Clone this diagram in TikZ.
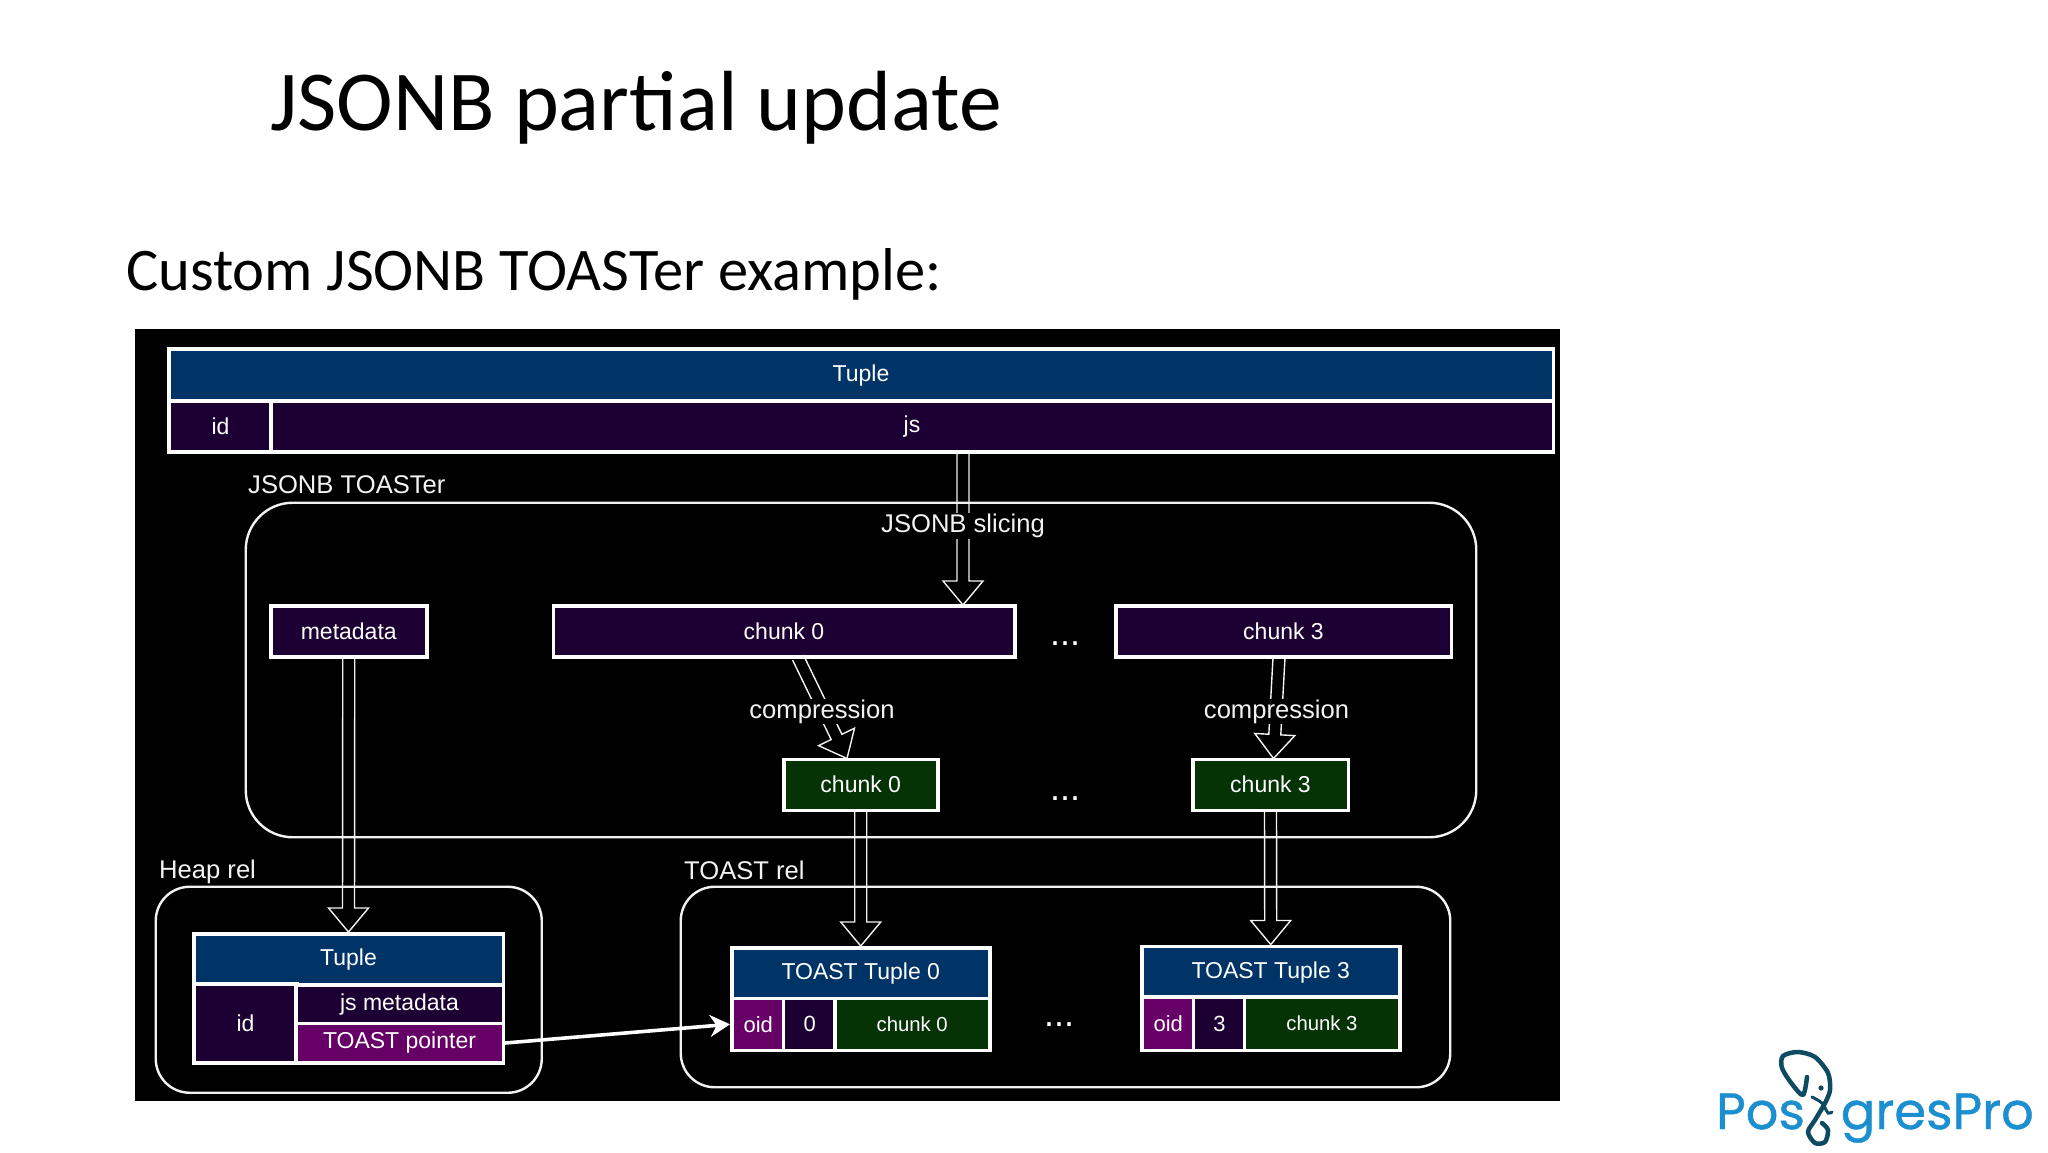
\documentclass[tikz,border=0pt]{standalone}
\usepackage{fontspec}
\setmainfont{Liberation Sans}
\newfontfamily\titlefont{Carlito}
\newfontfamily\logofont[FakeBold=0.8]{Poppins}
\usetikzlibrary{arrows.meta,calc}
\definecolor{cellblue}{HTML}{003366}
\definecolor{cellpurple}{HTML}{1D0033}
\definecolor{cellmagenta}{HTML}{660066}
\definecolor{cellgreen}{HTML}{063306}
\definecolor{logoblue}{HTML}{1B8FCF}
\definecolor{logodark}{HTML}{0F4A63}
\definecolor{pale}{HTML}{F2F2F2}
\tikzset{
  x=1pt,y=-1pt,
  cellbox/.style={draw=white,line width=3.5pt,rectangle,inner sep=0pt,text=white},
  groupbox/.style={draw=pale,line width=2.4pt,rectangle,inner sep=0pt},
  blockline/.style={draw=pale,line width=1.4pt,line join=miter},
  flowlabel/.style={fill=black,text=pale,inner sep=1pt,font=\fontsize{25.6}{30}\selectfont},
  grouplabel/.style={text=pale,inner sep=0pt,anchor=west,font=\fontsize{25.6}{30}\selectfont},
  dotsmark/.style={text=white,inner sep=0pt,anchor=base,font=\fontsize{36}{40}\selectfont},
  pointerline/.style={draw=white,line width=3.6pt,-{Stealth[length=20pt,width=22pt]}},
}
% name, x1, y1, x2, y2, colour, size, text
\newcommand\cellat[8]{\node[cellbox,fill=#6,minimum width={#4-#2-1.5},minimum height={#5-#3-1.5},font=\fontsize{#7}{#7}\selectfont] (#1) at ({(#2+#4)/2},{(#3+#5)/2}) {#8};}
\newcommand\groupat[6]{\node[groupbox,minimum width={#4-#2-1.5},minimum height={#5-#3-1.5},rounded corners=#6] (#1) at ({(#2+#4)/2},{(#3+#5)/2}) {};}
\newcommand\blockarrow[2]{%
  \coordinate (ah) at ($(#2)!24pt!(#1)$);
  \draw[blockline] ($(#1)!6pt!90:(#2)$) -- ($(ah)!6pt!90:(#2)$) -- ($(ah)!20pt!90:(#2)$) -- (#2)
    -- ($(ah)!20pt!-90:(#2)$) -- ($(ah)!6pt!-90:(#2)$) -- ($(#1)!6pt!-90:(#2)$);}
\begin{document}
\begin{tikzpicture}
\useasboundingbox (0,0) rectangle (2048,1152);
\fill[white] (0,0) rectangle (2048,1152);
\node[anchor=base west,inner sep=0pt,text=black,font=\titlefont\fontsize{85.4}{90}\selectfont] (title) at (270,130) {JSONB partial update};
\node[anchor=base west,inner sep=0pt,text=black,font=\titlefont\fontsize{60.5}{64}\selectfont] (subtitle) at (126,290) {Custom JSONB TOASTer example:};
\fill[black] (135,329) rectangle (1560,1101);
% groups
\groupat{toaster}{245}{502}{1477}{838}{47pt}
\groupat{heaprel}{155}{886}{542.5}{1093.5}{34pt}
\groupat{toastrel}{680}{886}{1451}{1088}{34pt}
% top tuple
\cellat{tupleTop}{168}{348}{1554}{403}{cellblue}{23}{Tuple}
\cellat{idTop}{168}{400}{273}{452.5}{cellpurple}{23}{id}
\cellat{jsTop}{270}{400}{1554}{452.5}{cellpurple}{23}{js}
% toaster contents
\cellat{metadata}{270}{605}{427.5}{657.5}{cellpurple}{23}{metadata}
\cellat{chunkA}{552.5}{605}{1015.5}{657.5}{cellpurple}{23}{chunk 0}
\cellat{chunkB}{1115}{605}{1452}{657.5}{cellpurple}{23}{chunk 3}
\cellat{greenA}{783}{758.5}{938.5}{811}{cellgreen}{23}{chunk 0}
\cellat{greenB}{1192}{758.5}{1349}{811}{cellgreen}{23}{chunk 3}
% heap tuple
\cellat{hTuple}{193}{933}{504}{986}{cellblue}{23}{Tuple}
\cellat{hId}{193}{983}{298}{1063.5}{cellpurple}{23}{id}
\cellat{hMeta}{295}{984}{504}{1026}{cellpurple}{23}{js metadata}
\cellat{hPtr}{295}{1022.5}{504}{1063.5}{cellmagenta}{23}{TOAST pointer}
% toast tuple 0
\cellat{tzHead}{731}{947}{990.5}{1000.5}{cellblue}{23}{TOAST Tuple 0}
\cellat{tzOid}{731}{997.5}{785.5}{1051}{cellmagenta}{22}{oid}
\cellat{tzNum}{782.5}{997.5}{837}{1051}{cellpurple}{22}{0}
\cellat{tzChunk}{834}{997.5}{990.5}{1051}{cellgreen}{20.3}{chunk 0}
% toast tuple 3
\cellat{ttHead}{1141}{945.5}{1400.5}{999}{cellblue}{23}{TOAST Tuple 3}
\cellat{ttOid}{1141}{996}{1195.5}{1051}{cellmagenta}{22}{oid}
\cellat{ttNum}{1192.5}{996}{1246.5}{1051}{cellpurple}{22}{3}
\cellat{ttChunk}{1243.5}{996}{1400.5}{1051}{cellgreen}{20.3}{chunk 3}
% connectors
\coordinate (jsOut) at (963,452.5);
\coordinate (jsIn) at (963,605);
\blockarrow{jsOut}{jsIn}
\blockarrow{metadata.south}{hTuple.north}
\coordinate (zipAOut) at (798,657.5);
\coordinate (zipAIn) at (847,758.5);
\blockarrow{zipAOut}{zipAIn}
\coordinate (zipBOut) at (1279,657.5);
\coordinate (zipBIn) at (1273.5,758.5);
\blockarrow{zipBOut}{zipBIn}
\blockarrow{greenA.south}{tzHead.north}
\blockarrow{greenB.south}{ttHead.north}
\draw[pointerline] (hPtr.east) -- (tzOid.west);
% labels
\node[flowlabel] (slicing) at (963,526) {JSONB slicing};
\node[flowlabel] (zipA) at (822,711.5) {compression};
\node[flowlabel] (zipB) at (1276.5,711.5) {compression};
\node[grouplabel] (toasterLabel) at (248,485) {JSONB TOASTer};
\node[grouplabel] (heapLabel) at (159,871.5) {Heap rel};
\node[grouplabel] (toastLabel) at (684,870) {TOAST rel};
\node[dotsmark] (dotsA) at (1065,645.6) {...};
\node[dotsmark] (dotsB) at (1065,800) {...};
\node[dotsmark] (dotsC) at (1059,1026) {...};
% logo
\node[anchor=base west,inner sep=0pt,text=logoblue,font=\logofont\fontsize{51}{55}\selectfont] (logoA) at (1716,1129) {Pos};
\node[anchor=base east,inner sep=0pt,text=logoblue,font=\logofont\fontsize{51}{55}\selectfont] (logoB) at (2034,1129) {gresPro};
\draw[logodark,line width=4.5pt,line cap=round,line join=round] plot[smooth] coordinates {(1807,1077) (1803,1095) (1792,1084) (1782,1068) (1783,1056) (1798,1052) (1815,1057) (1828,1073) (1830,1090) (1825,1103) (1815,1120) (1808,1132) (1815,1143) (1825,1142) (1828,1130) (1822,1123)};
\draw[logodark,line width=3pt,line cap=round] plot[smooth] coordinates {(1812,1097) (1822,1103) (1828,1113) (1832,1112)};
\fill[logodark] (1821,1088) circle (2.6pt);
\end{tikzpicture}
\end{document}
